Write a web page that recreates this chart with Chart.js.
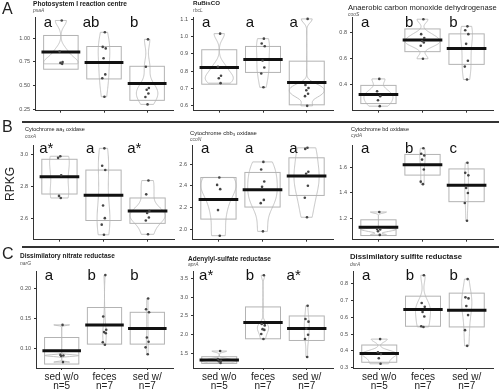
<!DOCTYPE html>
<html>
<head>
<meta charset="utf-8">
<script src="https://cdn.jsdelivr.net/npm/chart.js@4.4.1/dist/chart.umd.min.js"></script>
<style>
body { margin: 0; width: 499px; height: 390px; overflow: hidden; position: relative; background: #fff; font-family: "Liberation Sans", Arial, sans-serif; }
canvas { position: absolute; }
.txt { position: absolute; white-space: nowrap; line-height: 1; color: #222; }
.rule { position: absolute; left: 22px; right: 0; height: 2px; background: #333; }
</style>
</head>
<body>
<script>
// groups on the x axis
const groups = ['sed w/o', 'feces', 'sed w/'];
const nLabels = ['n=5', 'n=7', 'n=7'];

const titles = ['Photosystem I reaction centre', 'RuBisCO', 'Anaerobic carbon monoxide dehydrogenase',
  'Cytochrome aa\u2083 oxidase', 'Cytochrome cbb\u2083 oxidase', 'Cytochrome bd oxidase',
  'Dissimilatory nitrate reductase', 'Adenylyl-sulfate reductase', 'Dissimilatory sulfite reductase'];
const genes = ['psaA', 'rbcL', 'cooS', 'coxA', 'ccoN', 'cydA', 'narG', 'aprA', 'dsrA'];
const letters = [['a', 'ab', 'b'], ['a', 'a', 'a'], ['a', 'b', 'b'],
  ['a*', 'a', 'a*'], ['a', 'a', 'a'], ['a', 'b', 'c'],
  ['a', 'b', 'b'], ['a*', 'b', 'a*'], ['a', 'b', 'b']];

// RPKG per sample, box = lo..hi, thick bar = mean
const psaA_pts = [[1.19, 0.86, 0.75, 0.74, 0.73], [1.065, 0.91, 0.894, 0.79, 0.618, 0.577, 0.381], [0.99, 0.70, 0.474, 0.456, 0.415, 0.378, 0.30]];
const psaA_lo = [0.673, 0.570, 0.343];
const psaA_mean = [0.856, 0.745, 0.522];
const psaA_hi = [1.031, 0.914, 0.704];
const psaA_ticks = ['0.25', '0.50', '0.75', '1.00'];
const psaA_range = [0.233, 1.227];

const rbcL_pts = [[1.017, 0.826, 0.774, 0.759, 0.731], [0.988, 0.96, 0.944, 0.862, 0.821, 0.787, 0.707], [1.102, 0.72, 0.703, 0.69, 0.67, 0.656, 0.60]];
const rbcL_lo = [0.725, 0.793, 0.606];
const rbcL_mean = [0.822, 0.867, 0.735];
const rbcL_hi = [0.924, 0.943, 0.858];
const rbcL_ticks = ['0.6', '0.7', '0.8', '0.9', '1.0', '1.1'];
const rbcL_range = [0.572, 1.113];

const cooS_pts = [[0.445, 0.35, 0.312, 0.28, 0.235], [0.905, 0.79, 0.76, 0.737, 0.725, 0.70, 0.60], [0.85, 0.82, 0.79, 0.715, 0.585, 0.54, 0.44]];
const cooS_lo = [0.255, 0.655, 0.557];
const cooS_mean = [0.325, 0.745, 0.68];
const cooS_hi = [0.395, 0.83, 0.792];
const cooS_ticks = ['0.4', '0.6', '0.8'];
const cooS_range = [0.2, 0.922];

const coxA_pts = [[2.99, 2.98, 2.87, 2.74, 2.727], [3.04, 2.93, 2.903, 2.68, 2.60, 2.559, 2.495], [2.837, 2.75, 2.645, 2.633, 2.604, 2.585, 2.498]];
const coxA_lo = [2.752, 2.585, 2.567];
const coxA_mean = [2.861, 2.745, 2.645];
const coxA_hi = [2.971, 2.903, 2.727];
const coxA_ticks = ['2.6', '2.8', '3.0'];
const coxA_range = [2.464, 3.061];

const ccoN_pts = [[2.477, 2.408, 2.369, 2.176, 1.94], [2.62, 2.55, 2.44, 2.39, 2.27, 2.24, 1.98], [2.75, 2.74, 2.53, 2.51, 2.40, 2.29, 2.11]];
const ccoN_lo = [2.093, 2.204, 2.311];
const ccoN_mean = [2.274, 2.364, 2.49];
const ccoN_hi = [2.476, 2.523, 2.658];
const ccoN_ticks = ['2.0', '2.2', '2.4', '2.6'];
const ccoN_range = [1.903, 2.776];

const cydA_pts = [[1.249, 1.113, 1.11, 1.096, 1.067], [1.755, 1.712, 1.698, 1.665, 1.587, 1.49, 1.47], [1.64, 1.56, 1.54, 1.44, 1.40, 1.32, 1.18]];
const cydA_lo = [1.062, 1.542, 1.331];
const cydA_mean = [1.127, 1.625, 1.461];
const cydA_hi = [1.187, 1.706, 1.591];
const cydA_ticks = ['1.2', '1.4', '1.6'];
const cydA_range = [1.029, 1.781];

const narG_pts = [[0.139, 0.089, 0.088, 0.087, 0.077], [0.222, 0.153, 0.131, 0.127, 0.125, 0.11, 0.106], [0.183, 0.165, 0.16, 0.118, 0.111, 0.1016, 0.09]];
const narG_lo = [0.0738, 0.107, 0.107];
const narG_mean = [0.096, 0.139, 0.133];
const narG_hi = [0.118, 0.168, 0.160];
const narG_ticks = ['0.10', '0.15', '0.20'];
const narG_range = [0.0672, 0.2288];

const aprA_pts = [[1.57, 1.36, 1.31, 1.30, 1.254], [3.58, 2.287, 2.25, 2.15, 2.13, 2.02, 1.89], [2.77, 2.42, 2.35, 2.16, 2.0, 1.89, 1.41]];
const aprA_lo = [1.24, 1.895, 1.85];
const aprA_mean = [1.33, 2.33, 2.17];
const aprA_hi = [1.42, 2.74, 2.5];
const aprA_ticks = ['1.5', '2.0', '2.5', '3.0', '3.5'];
const aprA_range = [1.12, 3.693];

const dsrA_pts = [[0.47, 0.392, 0.382, 0.357, 0.324], [0.848, 0.684, 0.661, 0.63, 0.604, 0.546, 0.542], [0.825, 0.717, 0.711, 0.666, 0.612, 0.523, 0.43]];
const dsrA_lo = [0.333, 0.546, 0.542];
const dsrA_mean = [0.385, 0.645, 0.641];
const dsrA_hi = [0.435, 0.724, 0.742];
const dsrA_ticks = ['0.3', '0.4', '0.5', '0.6', '0.7', '0.8'];
const dsrA_range = [0.299, 0.873];

const panels = [
  [psaA_pts, psaA_lo, psaA_mean, psaA_hi, psaA_ticks, psaA_range],
  [rbcL_pts, rbcL_lo, rbcL_mean, rbcL_hi, rbcL_ticks, rbcL_range],
  [cooS_pts, cooS_lo, cooS_mean, cooS_hi, cooS_ticks, cooS_range],
  [coxA_pts, coxA_lo, coxA_mean, coxA_hi, coxA_ticks, coxA_range],
  [ccoN_pts, ccoN_lo, ccoN_mean, ccoN_hi, ccoN_ticks, ccoN_range],
  [cydA_pts, cydA_lo, cydA_mean, cydA_hi, cydA_ticks, cydA_range],
  [narG_pts, narG_lo, narG_mean, narG_hi, narG_ticks, narG_range],
  [aprA_pts, aprA_lo, aprA_mean, aprA_hi, aprA_ticks, aprA_range],
  [dsrA_pts, dsrA_lo, dsrA_mean, dsrA_hi, dsrA_ticks, dsrA_range]
];

// layout: plot box [left, right] per panel, [top, bottom] per row
const colX = [[35, 173], [192.7, 333], [351.7, 493], [33.3, 174.3], [192, 333], [351.7, 492.7], [35.7, 173], [193.3, 333], [352.7, 492.7]];
const rowY = [[17, 113.3], [144.5, 241], [271, 368]];
const letterDrop = [9.5, 7.5, 9];
// title: x, title centre y, gene centre y, width, weight
const titlePos = [[33, 4, 10.5, 94, 'bold'], [193, 3.5, 10, 27, 'bold'], [348, 8, 14.5, 149, 'normal'],
  [25, 130, 136, 60, 'normal'], [190, 134, 139.5, 67, 'normal'], [351, 130, 135.5, 58, 'normal'],
  [20, 256, 263.5, 95, 'bold'], [188, 259, 264.5, 83, 'bold'], [350, 257, 264, 112, 'bold']];
const jit = [0.02, -0.03, 0.04, -0.01, 0.03, -0.04, 0.01];

const FONT = '"Liberation Sans", Arial, sans-serif';
const mctx = document.createElement('canvas').getContext('2d');

function addText(str, x, y, css) {
  const d = document.createElement('div');
  d.className = 'txt';
  d.textContent = str;
  d.style.left = x + 'px';
  d.style.top = y + 'px';
  Object.assign(d.style, css || {});
  document.body.appendChild(d);
  return d;
}

function density(vals) {
  const n = vals.length;
  const m = vals.reduce((a, b) => a + b, 0) / n;
  const sd = Math.sqrt(vals.reduce((a, b) => a + (b - m) ** 2, 0) / (n - 1));
  const s = [...vals].sort((a, b) => a - b);
  const q = f => { const h = (n - 1) * f, i = Math.floor(h); return s[i] + (h - i) * ((i + 1 < n ? s[i + 1] : s[i]) - s[i]); };
  let lo = Math.min(sd, (q(0.75) - q(0.25)) / 1.34);
  if (!(lo > 0)) lo = sd || 1;
  const bw = 0.9 * lo * Math.pow(n, -0.2);
  const ys = [], ds = [];
  for (let k = 0; k <= 80; k++) {
    const yv = s[0] + (s[n - 1] - s[0]) * k / 80;
    let d = 0;
    for (const v of vals) d += Math.exp(-0.5 * ((yv - v) / bw) ** 2);
    ys.push(yv);
    ds.push(d / (n * bw * Math.sqrt(2 * Math.PI)));
  }
  return { ys, ds };
}

function makePanel(k) {
  const [pts, lo, mean, hi, ticks, range] = panels[k];
  const row = Math.floor(k / 3);
  const [L, R] = colX[k];
  const [T, B] = rowY[row];
  const padL = 30, padT = 14, padR = 4;
  const botH = row === 2 ? 24 : 4;
  const cv = document.createElement('canvas');
  cv.width = Math.round(R - L + padL + padR);
  cv.height = Math.round(B - T + padT + botH);
  cv.style.left = (L - padL) + 'px';
  cv.style.top = (T - padT) + 'px';
  document.body.appendChild(cv);

  const dens = pts.map(density);
  const maxD = Math.max(...dens.map(d => Math.max(...d.ds)));

  const shapes = {
    id: 'shapes' + k,
    beforeDatasetsDraw(chart) {
      const { ctx, scales: { x, y } } = chart;
      ctx.save();
      dens.forEach((d, g) => {
        const c = g + 1;
        // violin
        ctx.beginPath();
        d.ys.forEach((yv, i) => {
          const px = x.getPixelForValue(c + 0.4 * d.ds[i] / maxD);
          i ? ctx.lineTo(px, y.getPixelForValue(yv)) : ctx.moveTo(px, y.getPixelForValue(yv));
        });
        for (let i = d.ys.length - 1; i >= 0; i--) {
          ctx.lineTo(x.getPixelForValue(c - 0.4 * d.ds[i] / maxD), y.getPixelForValue(d.ys[i]));
        }
        ctx.closePath();
        ctx.strokeStyle = '#bdbdbd';
        ctx.lineWidth = 0.9;
        ctx.stroke();
        // box
        const x0 = x.getPixelForValue(c - 0.4), x1 = x.getPixelForValue(c + 0.4);
        const yt = y.getPixelForValue(hi[g]), yb = y.getPixelForValue(lo[g]);
        ctx.strokeStyle = '#b3b3b3';
        ctx.lineWidth = 1;
        ctx.strokeRect(x0, yt, x1 - x0, yb - yt);
        // mean
        ctx.beginPath();
        ctx.moveTo(x.getPixelForValue(c - 0.45), y.getPixelForValue(mean[g]));
        ctx.lineTo(x.getPixelForValue(c + 0.45), y.getPixelForValue(mean[g]));
        ctx.strokeStyle = '#111';
        ctx.lineWidth = 3;
        ctx.stroke();
      });
      ctx.restore();
    },
    afterDatasetsDraw(chart) {
      const { ctx, scales: { x }, chartArea } = chart;
      ctx.save();
      ctx.font = '15px ' + FONT;
      ctx.fillStyle = '#111';
      ctx.textAlign = 'center';
      ctx.textBaseline = 'alphabetic';
      letters[k].forEach((s, g) => {
        ctx.fillText(s, x.getPixelForValue(g + 1 - 0.3), chartArea.top + letterDrop[row]);
      });
      ctx.restore();
    }
  };

  const axisCol = '#333';
  new Chart(cv.getContext('2d'), {
    type: 'scatter',
    data: {
      datasets: [{
        data: pts.flatMap((arr, g) => arr.map((v, i) => ({ x: g + 1 + jit[i], y: v }))),
        pointRadius: 1.3,
        pointBackgroundColor: '#454545',
        pointBorderWidth: 0,
        clip: false
      }]
    },
    options: {
      responsive: false,
      animation: false,
      devicePixelRatio: 1,
      layout: { padding: { top: padT, right: padR, left: 0, bottom: 0 } },
      plugins: { legend: { display: false }, tooltip: { enabled: false } },
      scales: {
        x: {
          type: 'linear', min: 0.4, max: 3.6,
          afterBuildTicks: s => { s.ticks = [1, 2, 3].map(v => ({ value: v })); },
          afterFit: s => { s.height = botH; },
          grid: { display: true, drawOnChartArea: false, drawTicks: true, tickLength: 2, color: axisCol },
          border: { display: true, color: axisCol, width: 1 },
          ticks: {
            display: row === 2,
            maxRotation: 0,
            autoSkip: false,
            padding: 2,
            color: '#222',
            font: { family: FONT, size: 10, lineHeight: 0.95 },
            callback: (v, i) => [groups[i], nLabels[i]]
          }
        },
        y: {
          type: 'linear', min: range[0], max: range[1],
          afterBuildTicks: s => { s.ticks = ticks.map(v => ({ value: parseFloat(v) })); },
          afterFit: s => { s.width = padL; },
          grid: { display: true, drawOnChartArea: false, drawTicks: true, tickLength: 2, color: axisCol },
          border: { display: true, color: axisCol, width: 1 },
          ticks: {
            padding: 3,
            color: '#4d4d4d',
            font: { family: FONT, size: 5.5 },
            callback: (v, i) => ticks[i]
          }
        }
      }
    },
    plugins: [shapes]
  });

  // title + gene
  const [tx, ty, gy, tw, weight] = titlePos[k];
  mctx.font = weight + ' 10px ' + FONT;
  const fs = 10 * tw / mctx.measureText(titles[k]).width;
  addText(titles[k], tx, ty - fs / 2, { fontSize: fs + 'px', fontWeight: weight, color: '#1a1a1a' });
  addText(genes[k], tx, gy - 2.5, { fontSize: '5px', fontStyle: 'italic', color: '#555' });
}

for (let k = 0; k < 9; k++) makePanel(k);

// panel letters, separators, shared y label
addText('A', 2, 1.2, { fontSize: '16px' });
addText('B', 2, 118.6, { fontSize: '16px' });
addText('C', 2, 245.6, { fontSize: '16px' });
[120.5, 245.7].forEach(t => {
  const r = document.createElement('div');
  r.className = 'rule';
  r.style.top = t + 'px';
  document.body.appendChild(r);
});
addText('RPKG', 10, 184, { fontSize: '12px', transform: 'translate(-50%, -50%) rotate(-90deg)' });
</script>
</body>
</html>
